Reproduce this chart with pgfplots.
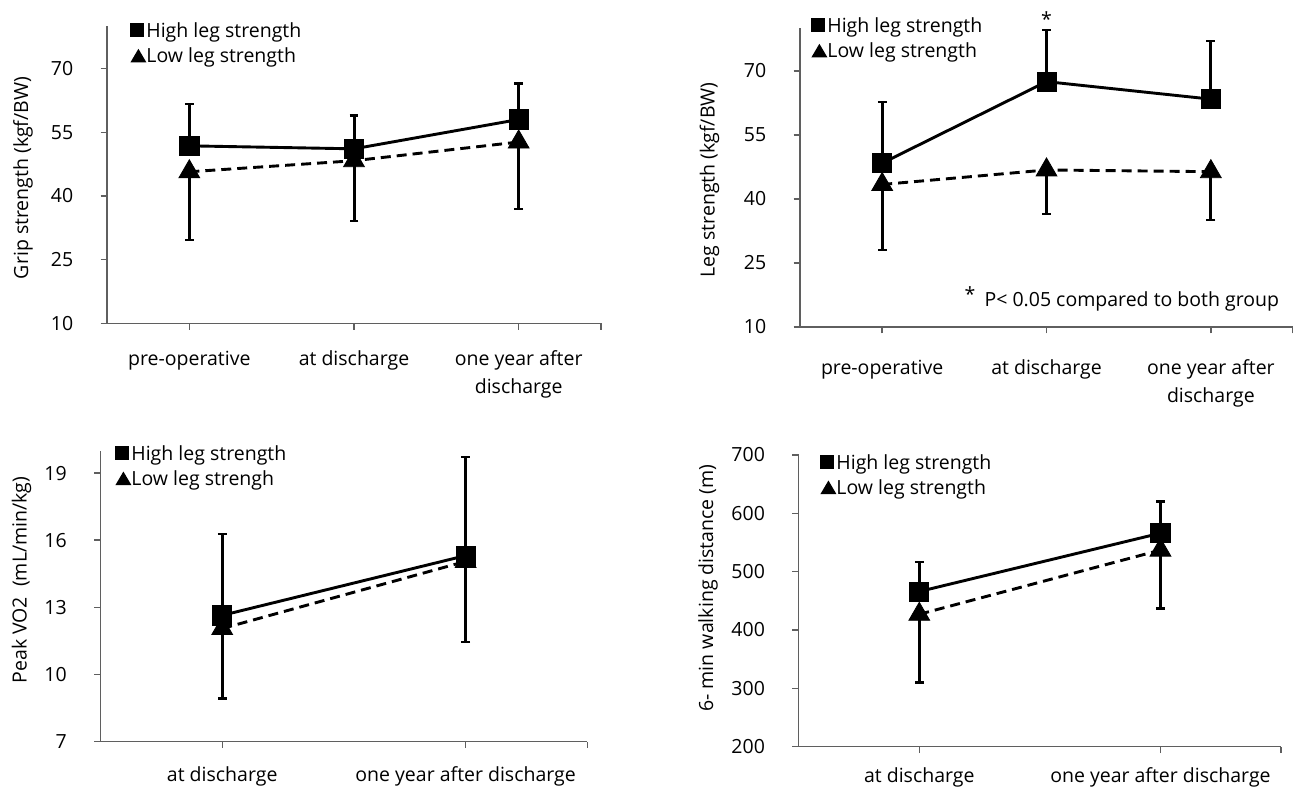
\documentclass[border=0pt]{standalone}
\usepackage{fontspec}
\setmainfont{Open Sans}
\usepackage{pgfplots}
\pgfplotsset{compat=1.18}
\definecolor{axisgray}{RGB}{95,95,95}
\pgfplotsset{
  panel/.style={
    scale only axis,
    anchor=south west,
    axis lines=left,
    axis line style={-, draw=axisgray, line width=0.7pt},
    tick align=outside,
    major tick length=3.2pt,
    every tick/.style={draw=axisgray, line width=0.7pt},
    /pgf/number format/assume math mode=true,
    yticklabel style={anchor=east, inner sep=0pt, xshift=-13.5pt},
    xticklabel style={anchor=base, inner sep=0pt, font=\fontsize{9.75}{14}\selectfont},
    ylabel style={anchor=center},
    legend cell align=left,
    reverse legend,
    legend style={draw=none, fill=none, anchor=north west, inner sep=0pt, row sep=2.5pt,
      nodes={inner sep=0pt, text height=7.5pt, text depth=2.5pt}},
    clip=false,
    error bars/error mark=-,
    error bars/error bar style={solid, line width=1.5pt, black},
    error bars/error mark options={rotate=90, solid, line width=1.2pt, mark size=2.2pt, black},
  },
  hi/.style={black, line width=1.45pt, mark=square*, mark size=4.8pt,
    mark options={solid, line width=0.4pt},
    legend image code/.code={\fill[black, solid, draw=none] (0pt,-2.5pt) rectangle (7pt,4.5pt);},
    error bars/y dir=plus, error bars/y explicit},
  lo/.style={black, line width=1.45pt, dash pattern=on 5pt off 3pt, mark=triangle*, mark size=6pt,
    mark options={solid, line width=0.4pt},
    legend image code/.code={\fill[black, solid, draw=none] (0pt,-2.5pt) -- (8pt,-2.5pt) -- (4pt,4.3pt) -- cycle;},
    error bars/y dir=minus, error bars/y explicit},
}
\begin{document}
\fontsize{9.75}{13}\selectfont
\begin{tikzpicture}
\path[use as bounding box] (0,0) rectangle (646.5pt,393pt);

% Panel 1: grip strength
\begin{axis}[panel, at={(53.5pt,231.25pt)}, width=247pt, height=148.75pt,
  xmin=-0.5, xmax=2.5, ymin=10, ymax=80,
  xtick={0,1,2,2.5},
  xticklabels={pre-operative, at discharge, {\begin{tabular}[t]{@{}c@{}}one year after\\discharge\end{tabular}}, {}},
  ytick={10,25,40,55,70},
  xticklabel style={yshift=-17.75pt},
  ylabel={Grip strength (kgf/BW)},
  ylabel style={at={(axis description cs:-0.170,0.489)}},
  legend style={at={(axis description cs:0.0466,1.0134)}},
]
\addplot[lo] coordinates {(0,45.7) +- (0,16.1) (1,48.3) +- (0,14.2) (2,52.7) +- (0,15.8)};
\addlegendentry{Low leg strength}
\addplot[hi] coordinates {(0,51.8) +- (0,9.9) (1,51.1) +- (0,7.8) (2,58.0) +- (0,8.5)};
\addlegendentry{High leg strength}
\end{axis}

% Panel 2: leg strength
\begin{axis}[panel, at={(400pt,229.5pt)}, width=246.5pt, height=149.35pt,
  xmin=-0.5, xmax=2.5, ymin=10, ymax=80,
  xtick={0,1,2,2.5},
  xticklabels={pre-operative, at discharge, {\begin{tabular}[t]{@{}c@{}}one year after\\discharge\end{tabular}}, {}},
  ytick={10,25,40,55,70},
  xticklabel style={yshift=-20.6pt},
  ylabel={Leg strength (kgf/BW)},
  ylabel style={at={(axis description cs:-0.1836,0.492)}},
  legend style={at={(axis description cs:0.0223,1.038)}},
]
\addplot[lo] coordinates {(0,43.4) +- (0,15.4) (1,46.8) +- (0,10.3) (2,46.4) +- (0,11.3)};
\addlegendentry{Low leg strength}
\addplot[hi] coordinates {(0,48.4) +- (0,14.3) (1,67.5) +- (0,12.1) (2,63.4) +- (0,13.6)};
\addlegendentry{High leg strength}
\node[anchor=base, inner sep=0pt] at (axis cs:1,80.4) {*};
\node[anchor=base, inner sep=0pt] at (axis cs:0.535,15.86) {*};
\node[anchor=base west, inner sep=0pt] at (axis cs:0.6206,14.7) {P< 0.05 compared to both group};
\end{axis}

% Panel 3: peak VO2
\begin{axis}[panel, at={(50.25pt,22.25pt)}, width=243.4pt, height=145.4pt,
  xmin=-0.5, xmax=1.5, ymin=7, ymax=20,
  xtick={0,1,1.5},
  xticklabels={at discharge, one year after discharge, {}},
  ytick={7,10,13,16,19},
  xticklabel style={yshift=-16.6pt},
  ylabel={Peak VO2\ \ (mL/min/kg)},
  ylabel style={at={(axis description cs:-0.162,0.555)}},
  legend style={at={(axis description cs:0.0298,1.0206)}},
]
\addplot[lo] coordinates {(0,12.05) +- (0,3.12) (1,15.05) +- (0,3.6)};
\addlegendentry{Low leg strengh}
\addplot[hi] coordinates {(0,12.64) +- (0,3.64) (1,15.31) +- (0,4.42)};
\addlegendentry{High leg strength}
\end{axis}

% Panel 4: 6-min walking distance
\begin{axis}[panel, at={(399.35pt,19.65pt)}, width=241.15pt, height=145.85pt,
  xmin=-0.5, xmax=1.5, ymin=200, ymax=700,
  xtick={0,1,1.5},
  xticklabels={at discharge, one year after discharge, {}},
  ytick={200,300,400,500,600,700},
  xticklabel style={yshift=-14.6pt},
  ylabel={6- min walking distance (m)},
  ylabel style={at={(axis description cs:-0.188,0.544)}},
  legend style={at={(axis description cs:0.0442,1.0045)}},
]
\addplot[lo] coordinates {(0,427) +- (0,117) (1,537) +- (0,100)};
\addlegendentry{Low leg strength}
\addplot[hi] coordinates {(0,466) +- (0,51) (1,566) +- (0,54)};
\addlegendentry{High leg strength}
\end{axis}
\end{tikzpicture}
\end{document}
